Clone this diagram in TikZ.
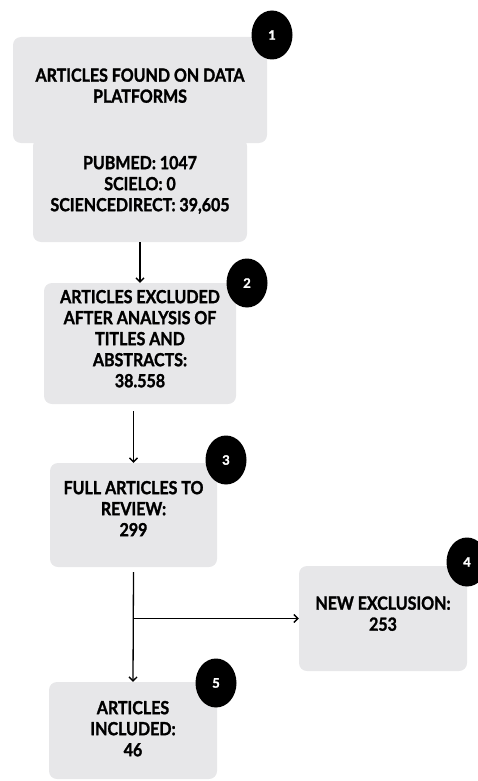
\documentclass[tikz,border=0pt]{standalone}
\usepackage{graphicx}
\usepackage{fontspec}
\setmainfont{Lato}[BoldFeatures={FakeBold=1.6}]
\usetikzlibrary{arrows.meta,shapes.geometric}
\definecolor{boxgray}{HTML}{E7E7E9}
\newcommand{\boxtext}[1]{\scalebox{1}[1.13]{\begin{tabular}{@{}c@{}}#1\end{tabular}}}
\begin{document}
\begin{tikzpicture}[x=1pt,y=-1pt,
  box/.style={fill=boxgray, draw=none, rounded corners=8pt, inner sep=0pt},
  lbl/.style={font=\bfseries\fontsize{16}{18.6}\selectfont, align=center, text=black, inner sep=0pt},
  badge/.style={ellipse, fill=black, minimum width=41pt, minimum height=49pt, inner sep=0pt, text=white, font=\bfseries\fontsize{13}{13}\selectfont},
  conn/.style={line width=1.3pt, -{Straight Barb[length=4pt,width=8pt]}}]
\useasboundingbox (0,0) rectangle (478,781);
% boxes
\node[box, minimum width=254pt, minimum height=106pt] (b1a) at (140,90) {};
\node[box, minimum width=214pt, minimum height=104pt] (b1b) at (140,190) {};
\node[box, minimum width=192pt, minimum height=121pt] (b2) at (140,343.5) {};
\node[box, minimum width=167pt, minimum height=104pt] (b3) at (133.5,515) {};
\node[box, minimum width=168pt, minimum height=105pt] (b4) at (383,618.5) {};
\node[box, minimum width=168pt, minimum height=97pt] (b5) at (133,730.5) {};
% texts
\node[lbl] (t1a) at (140,88) {\boxtext{ARTICLES FOUND ON DATA\\PLATFORMS}};
\node[lbl] (t1b) at (140,186) {\boxtext{PUBMED: 1047\\SCIELO: 0\\SCIENCEDIRECT: 39,605}};
\node[lbl] (t2) at (140,341) {\boxtext{ARTICLES EXCLUDED\\AFTER ANALYSIS OF\\TITLES AND\\ABSTRACTS:\\38.558}};
\node[lbl] (t3) at (133.5,511) {\boxtext{FULL ARTICLES TO\\REVIEW:\\299}};
\node[lbl] (t4) at (383,616) {\boxtext{NEW EXCLUSION:\\253}};
\node[lbl] (t5) at (133,731) {\boxtext{ARTICLES\\INCLUDED:\\46}};
% badges
\node[badge] (c1) at (272,35) {1};
\node[badge] (c2) at (247,283) {2};
\node[badge] (c3) at (226,460) {3};
\node[badge] (c4) at (467,562) {4};
\node[badge] (c5) at (216,683) {5};
% connectors
\draw[conn] (b1b.south) -- (b2.north);
\draw[conn] ([yshift=-7pt]b3.north |- b2.south) -- (b3.north);
\draw[conn] ([yshift=-5pt]b3.south) -- (b5.north);
\coordinate (j) at (b3.south |- b4.west);
\draw[conn] (j) -- (b4.west);
\end{tikzpicture}
\end{document}
